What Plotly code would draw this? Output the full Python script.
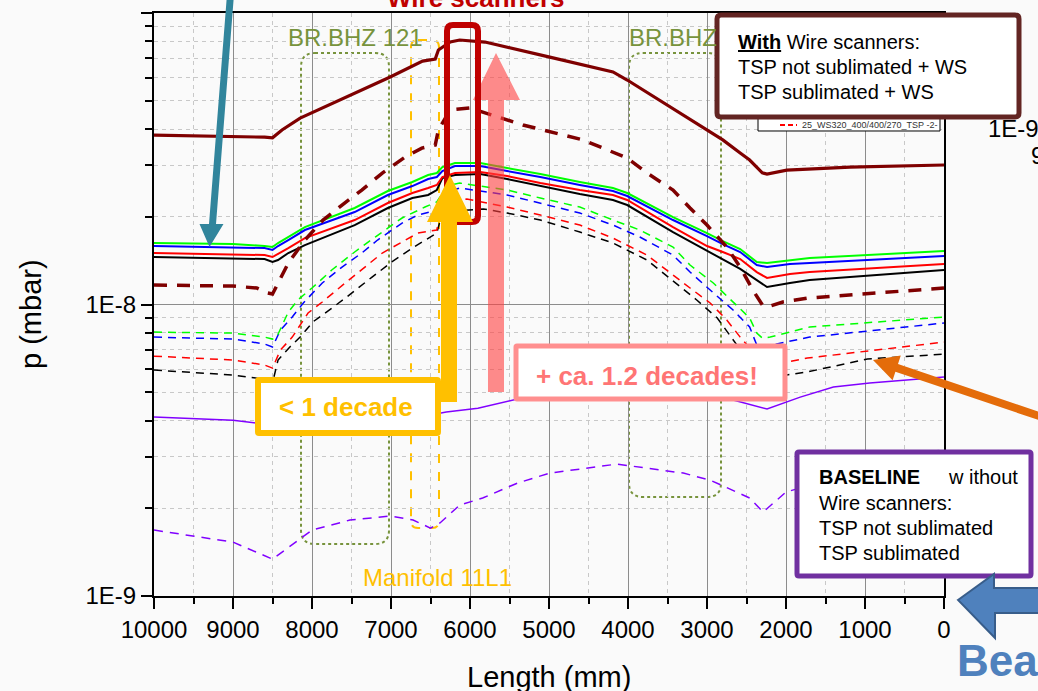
import plotly.graph_objects as go

# ---------------- data (length in mm, pressure in mbar) ----------------
x_dr_s = [10000, 9000, 8600, 8500, 8380, 8150, 7520, 7010, 6600, 6500, 6440, 6400, 6250, 6130,
          5870, 5810, 4990, 4190, 4010, 3090, 2800, 2580, 2460, 2300, 2240, 1990, 1190, 0]
p_dr_s = [3.81e-8, 3.78e-8, 3.75e-8, 3.73e-8, 3.97e-8, 4.36e-8, 5.23e-8, 6.03e-8, 6.84e-8, 6.90e-8,
          6.95e-8, 7.47e-8, 7.95e-8, 8.08e-8, 8.01e-8, 7.95e-8, 7.06e-8, 6.28e-8, 5.89e-8, 4.13e-8,
          3.67e-8, 3.31e-8, 3.13e-8, 2.83e-8, 2.80e-8, 2.89e-8, 2.96e-8, 3.01e-8]

x_dr_d = [10000, 9000, 8700, 8560, 8500, 8430, 8300, 8090, 7860, 7620, 7370, 7110, 6820, 6610, 6440,
          6400, 6250, 6000, 5330, 4570, 4010, 3760, 3430, 3215, 3000, 2750, 2580, 2420, 2290, 2200,
          2040, 1730, 0]
p_dr_d = [1.166e-8, 1.157e-8, 1.139e-8, 1.095e-8, 1.086e-8, 1.185e-8, 1.387e-8, 1.664e-8, 1.949e-8,
          2.194e-8, 2.47e-8, 2.825e-8, 3.205e-8, 3.44e-8, 3.525e-8, 3.97e-8, 4.65e-8, 4.72e-8,
          4.13e-8, 3.67e-8, 3.18e-8, 2.825e-8, 2.47e-8, 2.143e-8, 1.873e-8, 1.574e-8, 1.344e-8,
          1.121e-8, 0.988e-8, 0.988e-8, 1.020e-8, 1.052e-8, 1.139e-8]

x_solid = [10000, 9000, 8600, 8500, 8430, 8300, 8090, 7460, 7040, 6730, 6530, 6420, 6350, 6190, 5870,
           5530, 5110, 4610, 4190, 4010, 3430, 3000, 2800, 2580, 2370, 2240, 1950, 1700, 0]
p_green = [1.625e-8, 1.612e-8, 1.587e-8, 1.574e-8, 1.625e-8, 1.704e-8, 1.844e-8, 2.143e-8, 2.451e-8,
           2.631e-8, 2.781e-8, 2.825e-8, 2.962e-8, 3.057e-8, 3.057e-8, 2.939e-8, 2.803e-8, 2.631e-8,
           2.51e-8, 2.412e-8, 1.995e-8, 1.758e-8, 1.65e-8, 1.55e-8, 1.399e-8, 1.387e-8, 1.421e-8,
           1.443e-8, 1.526e-8]
p_blue = [1.587e-8, 1.574e-8, 1.562e-8, 1.538e-8, 1.587e-8, 1.664e-8, 1.801e-8, 2.076e-8, 2.375e-8,
          2.549e-8, 2.694e-8, 2.737e-8, 2.87e-8, 2.985e-8, 2.985e-8, 2.87e-8, 2.737e-8, 2.57e-8,
          2.451e-8, 2.356e-8, 1.949e-8, 1.717e-8, 1.612e-8, 1.514e-8, 1.366e-8, 1.344e-8, 1.376e-8,
          1.387e-8, 1.467e-8]
p_red = [1.502e-8, 1.49e-8, 1.478e-8, 1.455e-8, 1.49e-8, 1.562e-8, 1.69e-8, 1.949e-8, 2.229e-8,
         2.412e-8, 2.51e-8, 2.57e-8, 2.737e-8, 2.825e-8, 2.847e-8, 2.759e-8, 2.61e-8, 2.47e-8,
         2.375e-8, 2.283e-8, 1.844e-8, 1.587e-8, 1.514e-8, 1.432e-8, 1.292e-8, 1.233e-8, 1.272e-8,
         1.292e-8, 1.376e-8]
p_black = [1.455e-8, 1.443e-8, 1.432e-8, 1.399e-8, 1.421e-8, 1.502e-8, 1.599e-8, 1.873e-8, 2.143e-8,
           2.319e-8, 2.375e-8, 2.47e-8, 2.716e-8, 2.781e-8, 2.803e-8, 2.694e-8, 2.549e-8, 2.393e-8,
           2.283e-8, 2.194e-8, 1.772e-8, 1.526e-8, 1.421e-8, 1.324e-8, 1.213e-8, 1.148e-8, 1.185e-8,
           1.213e-8, 1.313e-8]

x_gd = [10000, 9000, 8600, 8500, 8440, 8300, 8180, 8000, 7750, 7460, 7200, 6990, 6860, 6570, 6420,
        6380, 6300, 6130, 5530, 5110, 4610, 4190, 3850, 3430, 3215, 2920, 2670, 2460, 2370, 2300,
        2200, 1950, 1700, 0]
p_gd = [8.04e-9, 7.98e-9, 7.73e-9, 7.61e-9, 7.80e-9, 9.42e-9, 1.036e-8, 1.139e-8, 1.313e-8, 1.514e-8,
        1.704e-8, 1.873e-8, 1.98e-8, 2.16e-8, 2.247e-8, 2.338e-8, 2.549e-8, 2.61e-8, 2.47e-8,
        2.319e-8, 2.16e-8, 1.949e-8, 1.801e-8, 1.574e-8, 1.366e-8, 1.185e-8, 1.020e-8, 8.99e-9,
        7.98e-9, 7.67e-9, 7.73e-9, 8.04e-9, 8.37e-9, 9.06e-9]

x_bd = [10000, 9000, 8600, 8500, 8400, 8250, 8110, 7870, 7620, 7370, 7170, 6860, 6660, 6420, 6300,
        6130, 5530, 5110, 4610, 4190, 3850, 3430, 3215, 2960, 2670, 2460, 2370, 2300, 1910, 1700, 0]
p_bd = [7.73e-9, 7.61e-9, 7.32e-9, 7.15e-9, 8.17e-9, 9.06e-9, 1.012e-8, 1.185e-8, 1.344e-8, 1.502e-8,
        1.664e-8, 1.903e-8, 2.027e-8, 2.109e-8, 2.431e-8, 2.51e-8, 2.375e-8, 2.229e-8, 2.06e-8,
        1.873e-8, 1.704e-8, 1.478e-8, 1.292e-8, 1.121e-8, 9.57e-9, 8.37e-9, 7.26e-9, 7.15e-9,
        7.55e-9, 7.73e-9, 8.64e-9]

x_rd = [10000, 9000, 8600, 8500, 8400, 8250, 8050, 7870, 7580, 7330, 7110, 6860, 6660, 6420, 6350,
        6040, 5530, 5110, 4610, 4190, 3760, 3215, 2960, 2750, 2580, 2300, 1990, 1730, 0]
p_rd = [6.65e-9, 6.45e-9, 6.20e-9, 6.05e-9, 6.98e-9, 7.73e-9, 9.35e-9, 1.020e-8, 1.185e-8, 1.344e-8,
        1.502e-8, 1.638e-8, 1.758e-8, 1.801e-8, 2.229e-8, 2.301e-8, 2.16e-8, 2.027e-8, 1.873e-8,
        1.69e-8, 1.478e-8, 1.139e-8, 1.012e-8, 8.85e-9, 7.73e-9, 6.35e-9, 6.35e-9, 6.55e-9, 7.43e-9]

x_kd = [10000, 9000, 8700, 8500, 8430, 8280, 8150, 7990, 7730, 7560, 7240, 6990, 6730, 6420, 6350,
        5830, 5530, 5110, 4610, 4190, 3760, 3130, 2870, 2670, 2300, 1990, 1730, 970, 0]
p_kd = [5.96e-9, 5.73e-9, 5.59e-9, 5.38e-9, 6.45e-9, 7.15e-9, 7.73e-9, 8.71e-9, 9.80e-9, 1.061e-8,
        1.242e-8, 1.399e-8, 1.562e-8, 1.758e-8, 2.076e-8, 2.126e-8, 2.06e-8, 1.949e-8, 1.772e-8,
        1.625e-8, 1.421e-8, 1.036e-8, 8.99e-9, 7.55e-9, 5.51e-9, 5.73e-9, 5.87e-9, 6.50e-9, 6.76e-9]

x_ps = [10000, 9000, 8700, 8500, 8000, 7000, 6500, 6300, 5900, 5400, 4500, 3000, 2670, 2240, 1820,
        1400, 940, 0]
p_ps = [4.11e-9, 4.01e-9, 3.92e-9, 3.83e-9, 4.01e-9, 4.18e-9, 4.18e-9, 4.28e-9, 4.41e-9, 4.74e-9,
        5.01e-9, 4.85e-9, 4.70e-9, 4.38e-9, 4.81e-9, 5.21e-9, 5.38e-9, 5.64e-9]

x_pd = [10000, 9000, 8500, 8000, 7520, 7010, 6720, 6500, 6380, 6130, 5840, 5400, 4990, 4140, 3300,
        2960, 2460, 2290, 2000, 1000, 0]
p_pd = [1.683e-9, 1.531e-9, 1.338e-9, 1.683e-9, 1.822e-9, 1.880e-9, 1.822e-9, 1.71e-9, 1.78e-9,
        2.051e-9, 2.168e-9, 2.44e-9, 2.64e-9, 2.835e-9, 2.64e-9, 2.498e-9, 2.168e-9, 1.941e-9,
        2.273e-9, 2.72e-9, 3.192e-9]

x_tickvals = [0, 1000, 2000, 3000, 4000, 5000, 6000, 7000, 8000, 9000, 10000]
x_ticktext = ["0", "1000", "2000", "3000", "4000", "5000", "6000", "7000", "8000", "9000", "10000"]
x_minor = [500, 1500, 2500, 3500, 4500, 5500, 6500, 7500, 8500, 9500]
y_tickvals = [1e-9, 1e-8, 1e-7]
y_ticktext = ["1E-9", "1E-8", "1E-7"]
y_minor = [2e-9, 3e-9, 4e-9, 5e-9, 6e-9, 7e-9, 8e-9, 9e-9,
           2e-8, 3e-8, 4e-8, 5e-8, 6e-8, 7e-8, 8e-8, 9e-8]

FONT = "Arial, 'Liberation Sans', sans-serif"

# ---------------- figure ----------------
fig = go.Figure()

def add(x, y, color, width, dash="solid"):
    fig.add_trace(go.Scatter(x=x, y=y, mode="lines", hoverinfo="skip",
                             line=dict(color=color, width=width, dash=dash)))

add(x_pd, p_pd, "#8000ff", 1.5, "9px,7px")
add(x_ps, p_ps, "#8000ff", 1.5)
add(x_kd, p_kd, "#000000", 1.5, "8px,6px")
add(x_rd, p_rd, "#ff0000", 1.5, "8px,6px")
add(x_bd, p_bd, "#0000ff", 1.5, "8px,6px")
add(x_gd, p_gd, "#00ff00", 1.5, "8px,6px")
add(x_solid, p_black, "#000000", 2)
add(x_solid, p_red, "#ff0000", 2)
add(x_solid, p_blue, "#0000ff", 2)
add(x_solid, p_green, "#00ff00", 2)
add(x_dr_d, p_dr_d, "#7f0000", 3.5, "13px,10px")
add(x_dr_s, p_dr_s, "#7f0000", 3.2)

# pixel -> paper helpers for decorations
L, R, T, B = 154, 944, 13, 596
def px(x): return (x - L) / (R - L)
def py(y): return (B - y) / (B - T)

def poly(pts):
    return "M " + " L ".join(f"{px(x):.5f},{py(y):.5f}" for x, y in pts) + " Z"

def rrect(x0, y0, x1, y1, r):
    P = lambda x, y: f"{px(x):.5f},{py(y):.5f}"
    return (f"M {P(x0+r,y0)} L {P(x1-r,y0)} Q {P(x1,y0)} {P(x1,y0+r)} "
            f"L {P(x1,y1-r)} Q {P(x1,y1)} {P(x1-r,y1)} L {P(x0+r,y1)} "
            f"Q {P(x0,y1)} {P(x0,y1-r)} L {P(x0,y0+r)} Q {P(x0,y0)} {P(x0+r,y0)} Z")

shapes = []
def shp(path, line_color=None, lw=0, dash="solid", fill=None, layer="above"):
    d = dict(type="path", xref="paper", yref="paper", path=path, layer=layer,
             line=dict(color=line_color or "rgba(0,0,0,0)", width=lw, dash=dash))
    if fill:
        d["fillcolor"] = fill
    shapes.append(d)

olive = "#77933c"
shp(rrect(301, 53, 389, 544, 14), olive, 2, "dot", layer="between")
shp(rrect(629, 53, 721, 497, 14), olive, 2, "dot", layer="between")
shp(rrect(411, 40, 439, 528, 7), "#ffc000", 2, "dash", layer="between")
# pink arrow (semi-transparent)
shp(poly([(488, 392), (504, 392), (504, 100), (520, 100), (496, 53), (473, 100), (488, 100)]),
    fill="rgba(255,64,64,0.6)")
# red frame around wire scanner position
shp(rrect(447, 25, 478, 222, 6), "#c00000", 6)
# gold arrow
shp(poly([(441, 402), (457, 402), (457, 222), (473, 222), (450, 175), (427, 222), (441, 222)]),
    fill="#ffc000")
# boxes
shp(rrect(258, 380, 438, 433, 1), "#ffc000", 6, fill="#ffffff")
shp(rrect(516, 346, 785, 399, 1), "#ff8f8f", 5, fill="#ffffff")
shp(rrect(758, 108, 940, 131, 0), "#000000", 1, fill="#ffffff")
shapes.append(dict(type="line", xref="paper", yref="paper", x0=px(780), x1=px(797), y0=py(125),
                   y1=py(125), line=dict(color="#ff0000", width=2, dash="5px,3px")))
shp(rrect(717, 15, 1019, 117, 4), "#632523", 5, fill="#ffffff")
shp(rrect(797, 452, 1031, 576, 2), "#7030a0", 5, fill="#ffffff")
# teal arrow
shp(poly([(227.5, -12), (234.5, -12), (216, 224), (223.5, 224), (209.5, 247), (199.5, 224),
          (209, 224)]), fill="#31859c")
# orange arrow
shp(poly([(1046.3, 414.2), (898.0, 364.1), (900.8, 355.6), (873, 360), (892.6, 380.2),
          (895.4, 371.7), (1043.7, 421.8)]), fill="#e46c0a")
# beam arrow
shp(poly([(958, 600), (994, 574), (994, 588), (1050, 588), (1050, 613), (995, 613), (995, 638)]),
    "#385d8a", 2, fill="#4f81bd")

anns = []
def ann(text, x, y, size, color="#000000", xanchor="center", yanchor="middle", angle=0):
    anns.append(dict(text=text, x=px(x), y=py(y), xref="paper", yref="paper", showarrow=False,
                     xanchor=xanchor, yanchor=yanchor, textangle=angle,
                     font=dict(family=FONT, size=size, color=color)))

ann("<b>Wire scanners</b>", 476, -2, 26, "#c00000")
ann("BR.BHZ 121", 286, 38, 24, olive, "left")
ann("BR.BHZ", 627, 38, 24, olive, "left")
ann("Manifold 11L1", 437, 577, 24, "#ffc000")
ann("<b>< 1 decade</b>", 346, 407, 26, "#ffc000")
ann("<b>+ ca. 1.2 decades!</b>", 647, 376, 26, "#ff7575")
ann("<b><u>With</u></b> Wire scanners:", 736, 42, 20, "#000000", "left")
ann("TSP not sublimated + WS", 736, 67, 20, "#000000", "left")
ann("TSP sublimated + WS", 736, 92, 20, "#000000", "left")
ann("25_WS320_400/400/270_TSP -2-", 800, 125, 9, "#333333", "left")
ann("1E-9", 986, 128, 24, "#000000", "left")
ann("9", 1029, 156, 24, "#000000", "left")
ann("<b>BASELINE</b>", 817, 477, 20, "#000000", "left")
ann("w ithout", 946, 477, 20, "#000000", "left")
ann("Wire scanners:", 817, 503, 20, "#000000", "left")
ann("TSP not sublimated", 817, 528, 20, "#000000", "left")
ann("TSP sublimated", 817, 553, 20, "#000000", "left")
ann("<b>Beam</b>", 955, 660, 44, "#4f81bd", "left")
ann("p (mbar)", 31, 314, 29, "#000000", angle=-90)
ann("Length (mm)", 549, 677, 29, "#000000")

axis_common = dict(showline=True, linecolor="#000000", linewidth=2, mirror=True,
                   ticks="outside", ticklen=11, tickwidth=2, tickcolor="#000000",
                   showgrid=True, gridcolor="#8c8c8c", gridwidth=1, zeroline=False,
                   tickfont=dict(family=FONT, size=24, color="#000000"))

fig.update_layout(
    width=1038, height=691, autosize=False,
    margin=dict(l=L, r=1038 - R, t=T, b=691 - B, pad=0),
    paper_bgcolor="#fafafa", plot_bgcolor="#fafafa",
    showlegend=False,
    xaxis=dict(range=[10000, 0], tickmode="array", tickvals=x_tickvals, ticktext=x_ticktext,
               minor=dict(tickmode="array", tickvals=x_minor, ticks="outside", ticklen=6,
                          tickwidth=2, tickcolor="#000000", showgrid=True,
                          gridcolor="#c8c8c8", griddash="4px,4px", gridwidth=1),
               **axis_common),
    yaxis=dict(type="log", range=[-9, -7], tickmode="array", tickvals=y_tickvals,
               ticktext=y_ticktext,
               minor=dict(tickmode="array", tickvals=y_minor, ticks="outside", ticklen=7,
                          tickwidth=2, tickcolor="#000000", showgrid=True,
                          gridcolor="#c8c8c8", griddash="4px,4px", gridwidth=1),
               **axis_common),
    shapes=shapes, annotations=anns,
)

fig.write_html("out.html")
